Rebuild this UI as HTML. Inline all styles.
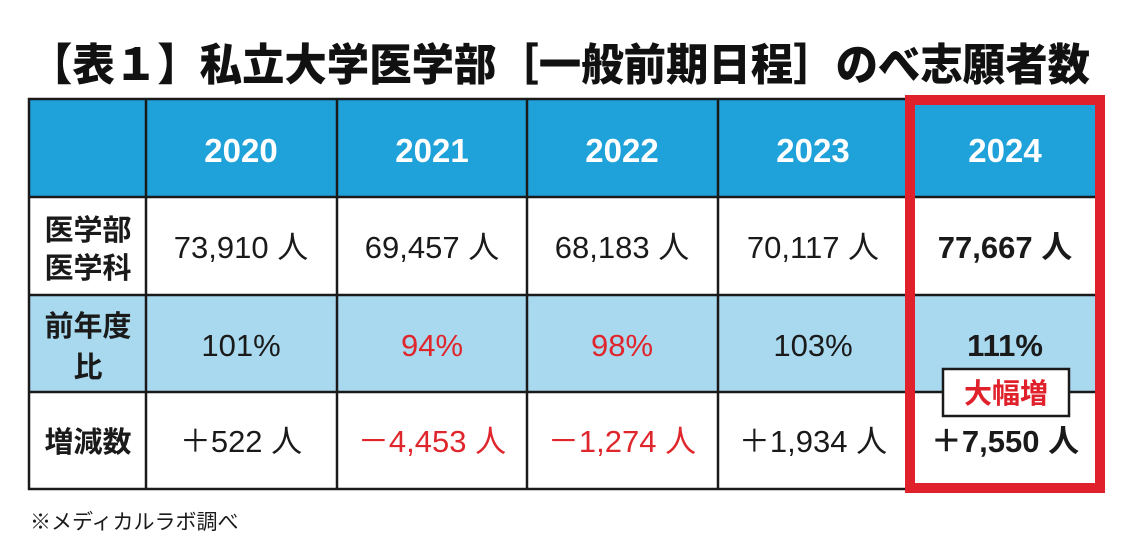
<!DOCTYPE html>
<html><head><meta charset="utf-8">
<style>
html,body{margin:0;padding:0;background:#fff;width:1130px;height:553px;overflow:hidden}
svg{display:block}
text{font-family:"Liberation Sans","Noto Sans CJK JP",sans-serif}
.jp{font-family:"Noto Sans CJK JP","Liberation Sans",sans-serif}
</style></head>
<body>
<svg width="1130" height="553" viewBox="0 0 1130 553">
  <text class="jp" x="30" y="80" font-size="44" font-weight="900" fill="#111" textLength="1060" lengthAdjust="spacingAndGlyphs">【表１】私立大学医学部［一般前期日程］のべ志願者数</text>

  <rect x="29" y="99" width="1069" height="98" fill="#1fa2da"/>
  <rect x="29" y="295" width="1069" height="97" fill="#a9d9ef"/>

  <g stroke="#1a1a1a" stroke-width="2.5" fill="none">
    <rect x="29" y="99" width="1069" height="390"/>
    <line x1="29" y1="197" x2="1098" y2="197"/>
    <line x1="29" y1="295" x2="1098" y2="295"/>
    <line x1="29" y1="392" x2="1098" y2="392"/>
    <line x1="146" y1="99" x2="146" y2="489"/>
    <line x1="337" y1="99" x2="337" y2="489"/>
    <line x1="527" y1="99" x2="527" y2="489"/>
    <line x1="718" y1="99" x2="718" y2="489"/>
  </g>

  <g font-size="33" font-weight="700" fill="#fff" text-anchor="middle">
    <text x="241" y="162">2020</text>
    <text x="432" y="162">2021</text>
    <text x="622" y="162">2022</text>
    <text x="813" y="162">2023</text>
    <text x="1005" y="162">2024</text>
  </g>

  <g class="jp" font-size="29" font-weight="700" fill="#1a1a1a" text-anchor="middle">
    <text x="88" y="240">医学部</text>
    <text x="88" y="278">医学科</text>
    <text x="88" y="336">前年度</text>
    <text x="88" y="377">比</text>
    <text x="88" y="452">増減数</text>
  </g>

  <g class="jp" font-size="31" fill="#1a1a1a" text-anchor="middle">
    <text x="241" y="258">73,910 人</text>
    <text x="432" y="258">69,457 人</text>
    <text x="622" y="258">68,183 人</text>
    <text x="813" y="258">70,117 人</text>
    <text x="1005" y="258" font-weight="700">77,667 人</text>
  </g>

  <g font-size="31" fill="#1a1a1a" text-anchor="middle">
    <text x="241" y="356">101%</text>
    <text x="432" y="356" fill="#e0262d">94%</text>
    <text x="622" y="356" fill="#e0262d">98%</text>
    <text x="813" y="356">103%</text>
    <text x="1005" y="356" font-weight="700">111%</text>
  </g>

  <g class="jp" font-size="31" fill="#1a1a1a" text-anchor="middle">
    <text x="241" y="452">＋522 人</text>
    <text x="432" y="452" fill="#e0262d">－4,453 人</text>
    <text x="622" y="452" fill="#e0262d">－1,274 人</text>
    <text x="813" y="452">＋1,934 人</text>
    <text x="1005" y="452" font-weight="700">＋7,550 人</text>
  </g>

  <rect x="910" y="100" width="190" height="388" fill="none" stroke="#e0212b" stroke-width="10"/>

  <rect x="943" y="369" width="126" height="47" fill="#fff" stroke="#1a1a1a" stroke-width="2.5"/>
  <text class="jp" x="1006" y="403" font-size="28" font-weight="700" fill="#e0212b" text-anchor="middle">大幅増</text>

  <text class="jp" x="30" y="529" font-size="21" fill="#1a1a1a">※メディカルラボ調べ</text>
</svg>
</body></html>
